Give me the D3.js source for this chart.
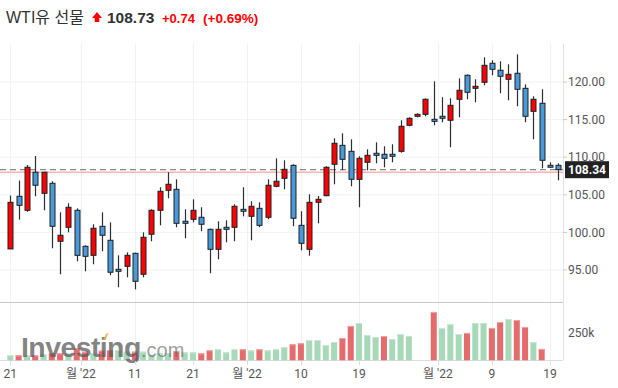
<!DOCTYPE html>
<html>
<head>
<meta charset="utf-8">
<script src="https://cdn.jsdelivr.net/npm/d3@7"></script>
<style>
  body { margin: 0; background: #fff; }
  svg { display: block; }
</style>
</head>
<body>
<script>
// daily candles (red = up, blue = down)
open = [97.8, 104.8, 102.94, 108.0, 105.2, 106.53, 98.82, 100.68, 102.94, 98.15,
	96.95, 100.81, 98.95, 95.09, 95.49, 97.22, 94.43, 99.75, 102.94, 105.6,
	105.73, 101.48, 101.74, 102.01, 100.41, 97.75, 100.68, 100.68, 103.07, 102.14,
	103.2, 102.01, 106.13, 107.19, 108.92, 100.94, 97.75, 104.0, 104.88, 109.06,
	111.58, 110.78, 107.06, 109.32, 110.52, 110.39, 110.39, 110.78, 114.24, 115.44,
	115.7, 115.04, 115.44, 114.91, 117.7, 120.89, 119.16, 119.96, 122.49, 121.56,
	120.36, 121.16, 119.16, 116.1, 117.17, 108.92, 108.92]
high = [104.9, 106.9, 108.96, 110.16, 108.07, 106.8, 102.67, 103.87, 103.2, 98.28,
	101.08, 102.67, 101.34, 96.95, 97.35, 97.3, 100.01, 103.07, 106.0, 108.0,
	107.06, 103.07, 104.4, 103.34, 100.5, 101.48, 101.61, 103.74, 106.0, 104.14,
	104.0, 107.06, 109.85, 109.59, 109.06, 102.81, 105.07, 104.84, 108.8, 112.51,
	113.18, 112.38, 110.12, 111.05, 111.98, 111.45, 111.72, 114.91, 115.31, 115.84,
	117.83, 120.09, 117.97, 117.83, 120.49, 121.02, 120.36, 123.28, 122.89, 122.75,
	122.35, 123.68, 119.69, 118.1, 119.03, 109.32, 109.19]
low = [97.8, 101.7, 102.75, 104.8, 102.94, 97.89, 94.43, 100.01, 96.16, 94.83,
	95.76, 97.49, 94.3, 92.7, 94.03, 92.43, 94.03, 98.82, 100.94, 104.53,
	100.68, 99.22, 101.34, 100.15, 94.56, 96.42, 98.68, 98.82, 102.14, 98.95,
	100.68, 101.74, 106.0, 105.73, 100.81, 97.62, 96.9, 101.21, 104.8, 106.4,
	108.26, 106.13, 103.34, 108.26, 109.19, 108.66, 109.32, 110.6, 114.11, 115.31,
	115.44, 114.24, 114.64, 111.32, 115.31, 117.7, 117.3, 119.56, 120.89, 118.5,
	117.57, 116.77, 114.64, 112.38, 108.52, 108.6, 106.93]
close = [104.0, 103.6, 108.66, 106.27, 108.0, 100.81, 99.62, 103.34, 96.95, 96.82,
	100.55, 99.62, 94.7, 94.83, 96.95, 93.5, 99.35, 102.94, 105.47, 106.4,
	101.21, 101.21, 102.94, 101.08, 97.75, 100.41, 100.41, 103.47, 102.81, 103.47,
	100.94, 106.27, 106.8, 108.39, 101.88, 98.55, 104.0, 104.4, 108.66, 111.85,
	109.72, 107.06, 109.85, 110.25, 110.25, 109.85, 110.12, 114.11, 115.17, 115.7,
	117.7, 114.77, 115.17, 116.9, 118.9, 118.63, 119.43, 122.22, 121.69, 120.76,
	121.02, 119.03, 115.44, 117.7, 109.59, 108.66, 108.34]
// volume in thousands, null = no bar
volume = [45, 45, 45, 45, 55, 63, 63, 63, 109, 78,
	63, 87, 93, 93, 78, 78, 78, 50, 63, 63,
	84, 72, 72, 63, 90, 100, 72, 100, 100, 90,
	100, 90, 100, 118, 145, 154, 184, 184, 139, 166,
	202, 311, 338, 229, 211, 220, 193, 238, 220, null,
	null, 438, 293, 329, 238, 248, 338, 338, 293, 347,
	374, 365, 302, 166, 103, null, null]

priceTicks = [95, 100, 105, 110, 115, 120]
volTicks = [250]
// x ticks as candle index positions
dateTicks = [0, 8.5, 15, 22, 28.5, 35, 42, 51.5, 58, 65]
dateLabels = ["21", "월 '22", "11", "21", "월 '22", "10", "19", "월 '22", "9", "19"]

lastPrice = 108.34
prevClose = 107.99

width = 618
height = 388
plotRight = 563

data = open.map((o, i) => ({i: i, o: o, h: high[i], l: low[i], c: close[i], v: volume[i],
	up: i == 0 || close[i] >= close[i - 1]}))

x = d3.scaleLinear().domain([0, data.length - 1]).range([10.3, 558.3])
y = d3.scaleLinear().domain([95, 120]).range([270, 82])
yv = d3.scaleLinear().domain([0, 250]).range([360.3, 332.7])

var svg = d3.select("body").append("svg")
	.attr("width", width)
	.attr("height", height)
	.style("font-family", "Roboto, 'Noto Sans CJK KR', sans-serif")

// header
var head = svg.append("g").style("font-family", "'Liberation Sans', Arial, 'Noto Sans CJK KR', sans-serif")
head.append("text").attr("x", 6).attr("y", 23).attr("font-size", 16).attr("fill", "#333").text("WTI유 선물")
head.append("path").attr("d", "M97,12 L102,18 L99.3,18 L99.3,22 L94.7,22 L94.7,18 L92,18 Z").attr("fill", "#f00")
head.append("text").attr("x", 107).attr("y", 23).attr("font-size", 15.5).attr("font-weight", "bold").attr("fill", "#333").text("108.73")
head.append("text").attr("x", 162).attr("y", 23).attr("font-size", 13).attr("font-weight", "bold").attr("fill", "#f00").text("+0.74")
head.append("text").attr("x", 203).attr("y", 23).attr("font-size", 13.5).attr("font-weight", "bold").attr("fill", "#f00").text("(+0.69%)")

// grid
svg.append("g").selectAll("line").data(priceTicks).join("line")
	.attr("x1", 0).attr("x2", plotRight)
	.attr("y1", d => y(d)).attr("y2", d => y(d))
	.attr("stroke", "#f2f2f2")
svg.append("g").selectAll("line").data(dateTicks).join("line")
	.attr("x1", d => Math.round(x(d)) + 0.5).attr("x2", d => Math.round(x(d)) + 0.5)
	.attr("y1", 44).attr("y2", 360)
	.attr("stroke", "#f2f2f2")

// panel frame
svg.append("line").attr("x1", plotRight + 0.5).attr("x2", plotRight + 0.5).attr("y1", 44).attr("y2", 360).attr("stroke", "#e3e3e3")
svg.append("line").attr("x1", 0).attr("x2", plotRight).attr("y1", 302.5).attr("y2", 302.5).attr("stroke", "#c8c8c8")
svg.append("line").attr("x1", 0).attr("x2", plotRight).attr("y1", 360.5).attr("y2", 360.5).attr("stroke", "#dedede")

// volume bars
var vol = svg.append("g").selectAll("g").data(data.filter(d => d.v != null)).join("g")
vol.append("rect")
	.attr("x", d => x(d.i) - 3)
	.attr("width", 6)
	.attr("y", d => yv(d.v))
	.attr("height", d => yv(0) - yv(d.v))
	.attr("fill", d => d.up ? "#a7d8b8" : "#e46c6c")
vol.append("rect")
	.attr("x", d => x(d.i) - 3)
	.attr("width", 6)
	.attr("y", d => yv(d.v))
	.attr("height", 1)
	.attr("fill", d => d.up ? "#c9e8d3" : "#f0a3a3")

// watermark
var wm = svg.append("g").style("font-family", "'Liberation Sans', Arial, sans-serif")
wm.append("text").attr("x", 21).attr("y", 357).attr("font-size", 28.5).attr("font-weight", "bold")
	.attr("fill", "#555").attr("fill-opacity", 0.72).attr("letter-spacing", -0.6).text("Investing")
wm.append("path").attr("d", "M103.5,339.5 L106,333.5 L108.5,333 L106,339 Z").attr("fill", "#f7b13a").attr("fill-opacity", 0.85)
wm.append("text").attr("x", 141).attr("y", 357).attr("font-size", 20)
	.attr("fill", "#666").attr("fill-opacity", 0.65).text(".com")

// reference lines
svg.append("line").attr("x1", 0).attr("x2", plotRight).attr("y1", y(prevClose)).attr("y2", y(prevClose))
	.attr("stroke", "#ffb0b0").attr("stroke-width", 1.5)
svg.append("line").attr("x1", 0).attr("x2", plotRight).attr("y1", y(lastPrice)).attr("y2", y(lastPrice))
	.attr("stroke", "#888").attr("stroke-width", 1.2).attr("stroke-dasharray", "6,4")

// candles
var candle = svg.append("g").selectAll("g").data(data).join("g")
candle.append("line")
	.attr("x1", d => Math.round(x(d.i)) + 0.5).attr("x2", d => Math.round(x(d.i)) + 0.5)
	.attr("y1", d => y(d.h)).attr("y2", d => y(d.l))
	.attr("stroke", "#2b2f33").attr("stroke-width", 1.2)
candle.append("rect")
	.attr("x", d => Math.round(x(d.i)) - 2)
	.attr("width", 5)
	.attr("y", d => y(Math.max(d.o, d.c)))
	.attr("height", d => Math.max(1.5, Math.abs(y(d.o) - y(d.c))))
	.attr("fill", d => d.c >= d.o ? "#ff0000" : "#4a9ad8")
	.attr("stroke", "#1c2024").attr("stroke-width", 1)

// y axis
var ya = svg.append("g").attr("font-size", 12).attr("fill", "#555")
ya.selectAll("text").data(priceTicks).join("text")
	.attr("x", 568).attr("y", d => y(d)).attr("dy", "0.35em").text(d => d.toFixed(2))
ya.selectAll("line").data(priceTicks).join("line")
	.attr("x1", plotRight).attr("x2", plotRight + 4).attr("y1", d => y(d)).attr("y2", d => y(d)).attr("stroke", "#ccc")
svg.append("g").attr("font-size", 12).attr("fill", "#555")
	.selectAll("text").data(volTicks).join("text")
	.attr("x", 568).attr("y", d => yv(d)).attr("dy", "0.35em").text(d => d + "k")

// last price tag
svg.append("rect").attr("x", 565).attr("y", y(lastPrice) - 8.5).attr("width", 44).attr("height", 17).attr("fill", "#222")
svg.append("text").attr("x", 587).attr("y", y(lastPrice)).attr("dy", "0.35em").attr("text-anchor", "middle")
	.attr("font-size", 12).attr("font-weight", "bold").attr("fill", "#fff").text(lastPrice.toFixed(2))

// x axis
var xa = svg.append("g").attr("font-size", 12).attr("fill", "#555")
xa.selectAll("text").data(dateTicks).join("text")
	.attr("x", d => x(d)).attr("y", 378).attr("text-anchor", "middle")
	.text((d, i) => dateLabels[i])
xa.selectAll("line").data(dateTicks).join("line")
	.attr("x1", d => Math.round(x(d)) + 0.5).attr("x2", d => Math.round(x(d)) + 0.5)
	.attr("y1", 361).attr("y2", 365).attr("stroke", "#ddd")
</script>
</body>
</html>
